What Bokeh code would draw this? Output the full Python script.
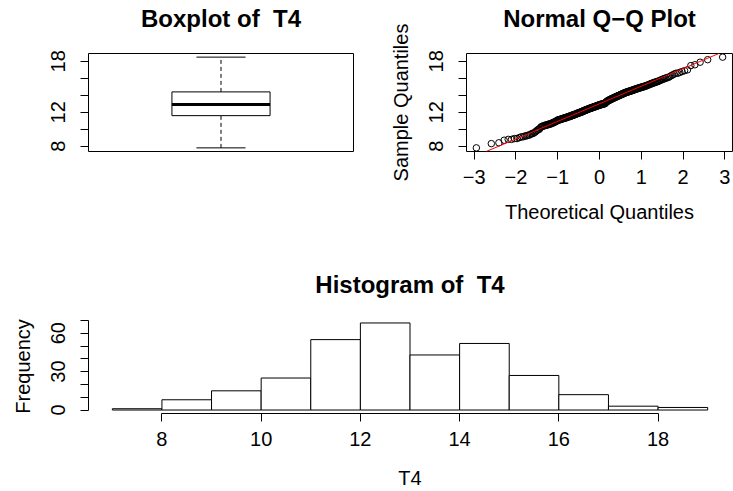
import numpy as np
from statistics import NormalDist
from bokeh.plotting import figure
from bokeh.layouts import column, row
from bokeh.models import Range1d, FixedTicker, Slope, Title
from bokeh.embed import file_html
from bokeh.resources import INLINE

# ---- data (T4 sample: value -> frequency) ----
t4_values = [7.8,
             8.3, 8.4, 8.7, 8.8, 8.9, 9.0,
             9.1, 9.2, 9.3, 9.4, 9.5, 9.6, 9.7, 9.8, 9.9, 10.0,
             10.2, 10.3, 10.4, 10.5, 10.6, 10.7, 10.8, 10.9, 11.0,
             11.1, 11.2, 11.3, 11.4, 11.5, 11.6, 11.7, 11.8, 11.9, 12.0,
             12.1, 12.2, 12.3, 12.4, 12.5, 12.6, 12.7, 12.8, 12.9, 13.0,
             13.1, 13.2, 13.3, 13.4, 13.5, 13.6, 13.7, 13.8, 13.9, 14.0,
             14.1, 14.2, 14.3, 14.4, 14.5, 14.6, 14.7, 14.8, 14.9, 15.0,
             15.1, 15.2, 15.3, 15.4, 15.5, 15.6, 15.7, 15.8, 15.9, 16.0,
             16.1, 16.2, 16.3, 16.4, 16.5, 16.6, 16.7, 16.8, 16.9, 17.0,
             17.5, 17.6, 17.9,
             18.2, 18.5]
t4_counts = [1,
             1, 1, 1, 2, 2, 1,
             2, 2, 2, 1, 2, 1, 1, 1, 1, 2,
             1, 2, 3, 4, 4, 3, 3, 3, 2,
             5, 5, 6, 5, 6, 5, 6, 5, 6, 6,
             5, 6, 6, 6, 7, 7, 7, 7, 8, 9,
             2, 3, 3, 5, 5, 5, 5, 5, 5, 5,
             5, 5, 5, 6, 6, 5, 5, 5, 5, 5,
             4, 3, 3, 3, 3, 3, 2, 2, 2, 2,
             2, 1, 1, 1, 1, 2, 1, 1, 1, 1,
             1, 1, 1,
             1, 1]
hist_edges = [7, 8, 9, 10, 11, 12, 13, 14, 15, 16, 17, 18, 19]

box_yticks = [8, 10, 12, 14, 16, 18]
box_ylabels = ["8", "", "12", "", "", "18"]
qq_xticks = [-3, -2, -1, 0, 1, 2, 3]
qq_xlabels = ["\u22123", "\u22122", "\u22121", "0", "1", "2", "3"]
hist_xticks = [8, 10, 12, 14, 16, 18]
hist_xlabels = ["8", "10", "12", "14", "16", "18"]
hist_yticks = [0, 10, 20, 30, 40, 50, 60, 70]
hist_ylabels = ["0", "", "", "30", "", "", "60", ""]

titles = ["Boxplot of \u00a0T4", "Normal Q\u2212Q Plot", "Histogram of \u00a0T4"]

FONT = "Liberation Sans"

# ---- derived statistics ----
x = np.sort(np.repeat(np.array(t4_values, dtype=float), t4_counts))
n = len(x)


def fivenum(v):
    m = len(v)
    n4 = np.floor((m + 3) / 2) / 2
    d = np.array([1, n4, (m + 1) / 2, m + 1 - n4, m])
    return 0.5 * (v[np.floor(d).astype(int) - 1] + v[np.ceil(d).astype(int) - 1])


lo, q1, med, q3, hi = fivenum(x)

nd = NormalDist()
theo = np.array([nd.inv_cdf((i - 0.5) / n) for i in range(1, n + 1)])
yq1, yq3 = np.quantile(x, [0.25, 0.75])
zq1, zq3 = nd.inv_cdf(0.25), nd.inv_cdf(0.75)
slope = (yq3 - yq1) / (zq3 - zq1)
intercept = yq1 - slope * zq1

edges = np.array(hist_edges, dtype=float)
hist_counts = []
for k in range(len(edges) - 1):
    if k == 0:
        c = np.sum((x >= edges[k]) & (x <= edges[k + 1]))
    else:
        c = np.sum((x > edges[k]) & (x <= edges[k + 1]))
    hist_counts.append(int(c))


def ext(a, b, f=0.04):
    r = b - a
    return Range1d(a - f * r, b + f * r)


def style_axis(ax, ticks, labels, orient=None, label_standoff=6, title_standoff=13):
    ax.ticker = FixedTicker(ticks=ticks)
    ax.major_label_overrides = {t: l for t, l in zip(ticks, labels)}
    ax.bounds = (min(ticks), max(ticks))
    ax.axis_line_color = "black"
    ax.axis_line_width = 1
    ax.major_tick_line_color = "black"
    ax.major_tick_out = 8
    ax.major_tick_in = 0
    ax.minor_tick_line_color = None
    ax.major_label_text_font = FONT
    ax.major_label_text_font_size = "20px"
    ax.major_label_text_color = "black"
    ax.major_label_standoff = label_standoff
    ax.axis_label_text_font = FONT
    ax.axis_label_text_font_size = "20px"
    ax.axis_label_text_font_style = "normal"
    ax.axis_label_text_color = "black"
    ax.axis_label_standoff = title_standoff
    if orient is not None:
        ax.major_label_orientation = orient


def base_fig(w, h, left, right, top, bottom, title, xr, yr):
    p = figure(width=w, height=h, x_range=xr, y_range=yr,
               output_backend="svg", toolbar_location=None,
               min_border_left=left, min_border_right=right,
               min_border_top=top, min_border_bottom=bottom)
    p.title.text = ""
    # blank spacer next to the frame, then the main title above it
    p.add_layout(Title(text="\u00a0", text_font_size="2px", standoff=18), "above")
    p.add_layout(Title(text=title, align="center", text_font=FONT, text_font_size="24px",
                       text_font_style="bold", text_color="black", standoff=0), "above")
    p.grid.visible = False
    p.background_fill_color = "white"
    p.border_fill_color = "white"
    return p


# ---- boxplot ----
p1 = base_fig(366, 245, 88, 13, 53, 94, titles[0], Range1d(0.46, 1.54), ext(x.min(), x.max()))
p1.outline_line_color = "black"
p1.outline_line_width = 1
p1.xaxis.visible = False
style_axis(p1.yaxis[0], box_yticks, box_ylabels, orient="vertical", label_standoff=15)
p1.segment(x0=[1, 1], x1=[1, 1], y0=[q3, lo], y1=[hi, q1], line_color="black",
           line_width=1, line_dash="4 3")
p1.segment(x0=[0.9, 0.9], x1=[1.1, 1.1], y0=[lo, hi], y1=[lo, hi], line_color="black", line_width=1)
p1.vbar(x=[1], width=0.4, bottom=[q1], top=[q3], fill_color="white", line_color="black", line_width=1)
p1.segment(x0=[0.8], x1=[1.2], y0=[med], y1=[med], line_color="black", line_width=3)

# ---- QQ plot ----
p2 = base_fig(367, 245, 100, 1, 53, 94, titles[1], ext(theo.min(), theo.max()), ext(x.min(), x.max()))
p2.outline_line_color = "black"
p2.outline_line_width = 1
style_axis(p2.xaxis[0], qq_xticks, qq_xlabels, label_standoff=10, title_standoff=14)
style_axis(p2.yaxis[0], box_yticks, box_ylabels, orient="vertical", label_standoff=15, title_standoff=15)
p2.xaxis.axis_label = "Theoretical Quantiles"
p2.yaxis.axis_label = "Sample Quantiles"
p2.scatter(theo, x, marker="circle", size=6.5, fill_color=None, line_color="black", line_width=1)
p2.add_layout(Slope(gradient=slope, y_intercept=intercept, line_color="red", line_width=1))

# ---- histogram ----
p3 = base_fig(733, 246, 88, 2, 74, 75, titles[2], ext(edges[0], edges[-1]), ext(0, max(hist_counts)))
p3.outline_line_color = None
style_axis(p3.xaxis[0], hist_xticks, hist_xlabels, label_standoff=10, title_standoff=18)
style_axis(p3.yaxis[0], hist_yticks, hist_ylabels, orient="vertical", label_standoff=15, title_standoff=15)
p3.xaxis.axis_label = "T4"
p3.yaxis.axis_label = "Frequency"
p3.quad(left=edges[:-1], right=edges[1:], bottom=0, top=hist_counts,
        fill_color="white", line_color="black", line_width=1)

layout = column(row(p1, p2, spacing=0), p3, spacing=0)
open("out.html", "w").write(file_html(layout, INLINE))
